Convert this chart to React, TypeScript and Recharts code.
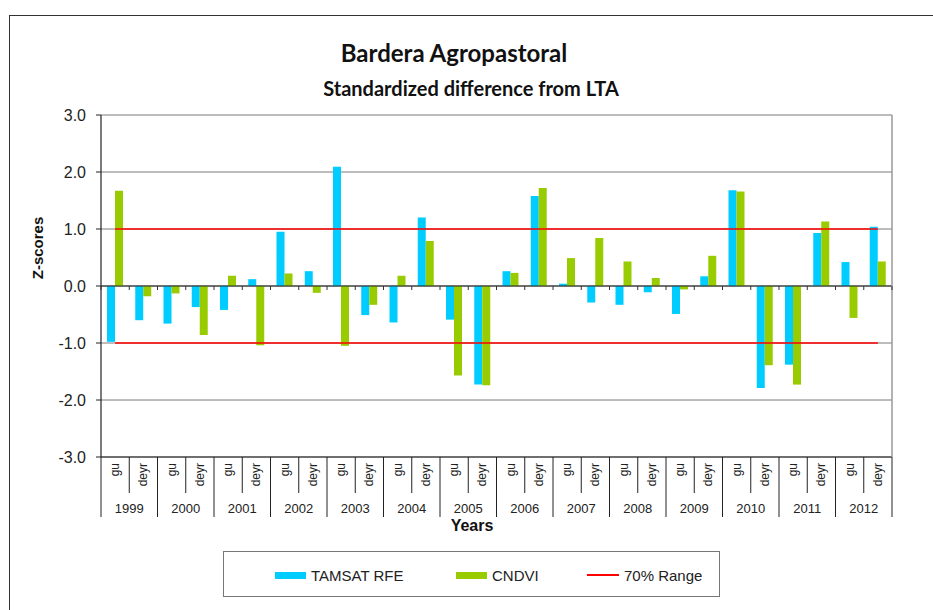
import React from 'react';
import {
  ComposedChart,
  Bar,
  Line,
  XAxis,
  YAxis,
  CartesianGrid,
  ReferenceLine,
  Legend,
} from 'recharts';

const years = ['1999', '2000', '2001', '2002', '2003', '2004', '2005', '2006', '2007', '2008', '2009', '2010', '2011', '2012'];
const seasons = ['gu', 'deyr'];

// z-scores, one value per season (gu, deyr) per year
const tamsatRfe = [-0.98, -0.6, -0.66, -0.37, -0.42, 0.12, 0.95, 0.26, 2.09, -0.51, -0.64, 1.2, -0.59, -1.73, 0.26, 1.58, 0.04, -0.29, -0.33, -0.11, -0.49, 0.17, 1.68, -1.79, -1.38, 0.93, 0.42, 1.04];
const cndvi = [1.67, -0.18, -0.13, -0.86, 0.18, -1.04, 0.22, -0.12, -1.05, -0.33, 0.18, 0.79, -1.57, -1.74, 0.23, 1.72, 0.49, 0.84, 0.43, 0.14, -0.06, 0.53, 1.66, -1.39, -1.73, 1.13, -0.56, 0.43];
const rangeLimits = [1.0, -1.0]; // 70% range
const yTicks = [-3, -2, -1, 0, 1, 2, 3];
const legendOrder = ['TAMSAT RFE', 'CNDVI', '70% Range'];

const data = years.flatMap((yr, i) =>
  seasons.map((s, j) => {
    const k = i * 2 + j;
    return {
      cat: `${yr} ${s}`,
      tamsat: tamsatRfe[k],
      cndvi: cndvi[k],
      upper: rangeLimits[0],
      lower: rangeLimits[1],
    };
  })
);

const W = 933;
const H = 610;
const PLOT_L = 101;
const PLOT_R = 892;
const PLOT_T = 115;
const PLOT_B = 457;
const ZERO_Y = (PLOT_T + PLOT_B) / 2;
const BAND = (PLOT_R - PLOT_L) / data.length;

const FONT = '"Liberation Sans", Arial, sans-serif';
const BLUE = '#00CCFF';
const GREEN = '#99CC00';
const RED = '#FF0000';

function SeasonTick(props: any) {
  const { x, index, payload } = props;
  const y = PLOT_B;
  const [yr, s] = String(payload.value).split(' ');
  const left = x - BAND / 2;
  const isGu = s === 'gu';
  const isLast = index === data.length - 1;
  return (
    <g>
      <text
        x={x + 4}
        y={y + 6}
        transform={`rotate(-90 ${x + 4} ${y + 6})`}
        textAnchor="end"
        fontSize={12}
        fontFamily={FONT}
        fill="#222"
      >
        {s}
      </text>
      <line x1={left} x2={left} y1={y} y2={isGu ? y + 60 : y + 36} stroke="#222" strokeWidth={1} />
      {isLast && <line x1={x + BAND / 2} x2={x + BAND / 2} y1={y} y2={y + 60} stroke="#222" strokeWidth={1} />}
      {!isGu && (
        <text x={left} y={y + 56} textAnchor="middle" fontSize={13} fontFamily={FONT} fill="#222">
          {yr}
        </text>
      )}
      <line x1={left} x2={left} y1={ZERO_Y} y2={ZERO_Y + 4} stroke="#333" strokeWidth={1} />
      {isLast && <line x1={x + BAND / 2} x2={x + BAND / 2} y1={ZERO_Y} y2={ZERO_Y + 4} stroke="#333" />}
    </g>
  );
}

function LegendBox(props: any) {
  const items = (props.payload || [])
    .filter((p: any) => legendOrder.includes(p.value))
    .sort((a: any, b: any) => legendOrder.indexOf(a.value) - legendOrder.indexOf(b.value));
  const offsets = [51, 232, 363];
  return (
    <div
      style={{
        position: 'relative',
        width: 497,
        height: 46,
        border: '1px solid #777',
        boxSizing: 'border-box',
        fontFamily: FONT,
        fontSize: 15,
        color: '#222',
      }}
    >
      {items.map((p: any, i: number) => (
        <div key={p.value} style={{ position: 'absolute', left: offsets[i], top: 13, height: 20, display: 'flex', alignItems: 'center' }}>
          {p.type === 'line' ? (
            <span style={{ display: 'inline-block', width: 32, height: 1.5, background: p.color }} />
          ) : (
            <span style={{ display: 'inline-block', width: 31, height: 7, background: p.color }} />
          )}
          <span style={{ marginLeft: 5 }}>{p.value}</span>
        </div>
      ))}
    </div>
  );
}

export default function App() {
  return (
    <div style={{ position: 'fixed', left: 0, top: 0, width: W, height: H, overflow: 'hidden', background: '#fff' }}>
      <div
        style={{
          position: 'absolute',
          left: 9,
          top: 15,
          width: 1200,
          height: 900,
          border: '1.5px solid #333',
        }}
      />
      <div style={{ position: 'absolute', left: 0, top: 0 }}>
        <ComposedChart
          width={W}
          height={H}
          data={data}
          margin={{ top: PLOT_T, right: W - PLOT_R - 1, left: PLOT_L - 60, bottom: H - PLOT_B - 70 }}
          barGap={0}
        >
          <CartesianGrid vertical={false} stroke="#7a7a7a" strokeWidth={1} />
          <XAxis
            dataKey="cat"
            interval={0}
            height={70}
            tickLine={false}
            tickSize={0}
            axisLine={{ stroke: '#222', strokeWidth: 1.2 }}
            tick={<SeasonTick />}
          />
          <YAxis
            domain={[-3, 3]}
            ticks={yTicks}
            width={60}
            tickSize={5}
            tickMargin={10}
            tickFormatter={(v: number) => v.toFixed(1)}
            tick={{ fill: '#222', fontSize: 16, fontFamily: FONT }}
            axisLine={{ stroke: '#222', strokeWidth: 1.2 }}
            tickLine={{ stroke: '#222' }}
            allowDataOverflow
          />
          <YAxis
            yAxisId="right"
            orientation="right"
            domain={[-3, 3]}
            width={1}
            tick={false}
            tickLine={false}
            axisLine={{ stroke: '#999', strokeWidth: 1.5 }}
          />
          <ReferenceLine y={0} stroke="#222" strokeWidth={1.2} />
          <Bar dataKey="tamsat" name="TAMSAT RFE" fill={BLUE} barSize={8} isAnimationActive={false} />
          <Bar dataKey="cndvi" name="CNDVI" fill={GREEN} barSize={8} isAnimationActive={false} />
          <Line
            dataKey="upper"
            name="70% Range"
            stroke={RED}
            strokeWidth={1.5}
            dot={false}
            activeDot={false}
            isAnimationActive={false}
          />
          <Line
            dataKey="lower"
            name="70% Range lower"
            legendType="none"
            stroke={RED}
            strokeWidth={1.5}
            dot={false}
            activeDot={false}
            isAnimationActive={false}
          />
          <Legend
            verticalAlign="middle"
            layout="horizontal"
            content={<LegendBox />}
            wrapperStyle={{ position: 'absolute', left: 223, top: 551, width: 497, height: 46 }}
          />
        </ComposedChart>
      </div>
      <svg width={W} height={H} style={{ position: 'absolute', left: 0, top: 0, pointerEvents: 'none' }}>
        <text x={454} y={62} textAnchor="middle" fontFamily="Lato, sans-serif" fontWeight="bold" fontSize={24} fill="#111">
          Bardera Agropastoral
        </text>
        <text x={471} y={96} textAnchor="middle" fontFamily="Lato, sans-serif" fontWeight="bold" fontSize={20} fill="#111">
          Standardized difference from LTA
        </text>
        <text
          x={43}
          y={248}
          transform="rotate(-90 43 248)"
          textAnchor="middle"
          fontFamily={FONT}
          fontWeight="bold"
          fontSize={15}
          fill="#111"
        >
          Z-scores
        </text>
        <text x={472} y={531} textAnchor="middle" fontFamily={FONT} fontWeight="bold" fontSize={16} fill="#111">
          Years
        </text>
      </svg>
    </div>
  );
}
